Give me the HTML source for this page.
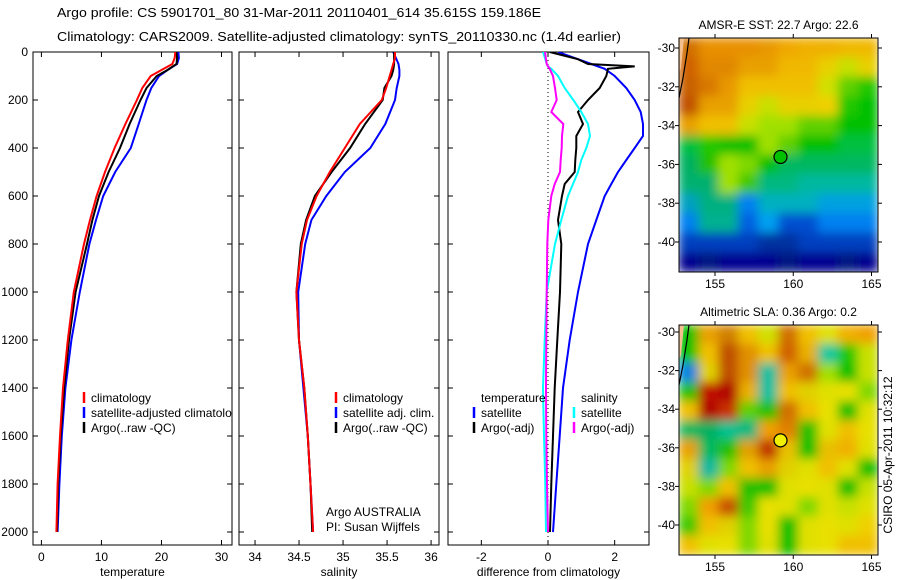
<!DOCTYPE html>
<html><head><meta charset="utf-8"><style>
body{margin:0;background:#fff;}
svg{display:block;font-family:"Liberation Sans",sans-serif;}
</style></head><body>
<svg id="fig" width="900" height="580" viewBox="0 0 900 580">
<defs>
<filter id="blur" x="0" y="0" width="1" height="1"><feGaussianBlur stdDeviation="5" edgeMode="duplicate"/></filter>
<clipPath id="clipTop"><rect x="679" y="38" width="199" height="234"/></clipPath>
<clipPath id="clipBot"><rect x="679" y="325" width="199" height="230"/></clipPath>
<clipPath id="clipP1"><rect x="33" y="52" width="199" height="493"/></clipPath>
<clipPath id="clipP2"><rect x="239" y="52" width="200" height="493"/></clipPath>
<clipPath id="clipP3"><rect x="448" y="52" width="201" height="493"/></clipPath>
</defs>
<text x="299" y="17" font-size="13" text-anchor="middle" textLength="484" lengthAdjust="spacingAndGlyphs">Argo profile: CS 5901701_80 31-Mar-2011 20110401_614 35.615S 159.186E</text>
<text x="339" y="41" font-size="13" text-anchor="middle" textLength="564" lengthAdjust="spacingAndGlyphs">Climatology: CARS2009. Satellite-adjusted climatology: synTS_20110330.nc (1.4d earlier)</text>
<g id="plots"></g>
<g id="maps"></g>
<text transform="translate(892,455) rotate(-90)" font-size="12" text-anchor="middle">CSIRO 05-Apr-2011 10:32:12</text>
</svg>
<script>
const depths=[0,25,50,75,100,150,200,300,400,500,600,700,800,1000,1200,1400,1600,1800,2000];
const tempClim=[22.3,22.2,21.8,20.0,18.2,16.8,15.9,14.0,12.2,10.6,9.2,8.1,7.1,5.4,4.4,3.6,3.1,2.7,2.5];
const tempSat=[22.8,22.9,22.6,21.0,19.6,18.3,17.5,16.2,14.9,12.3,10.3,9.1,8.0,6.4,5.0,4.0,3.4,3.0,2.7];
const tempArgo=[22.5,22.6,22.5,21.0,19.2,17.5,16.5,14.7,13.1,11.2,9.6,8.5,7.6,5.7,4.6,3.8,3.2,2.8,2.6];
const salClim=[35.59,35.59,35.57,35.55,35.53,35.49,35.44,35.19,35.02,34.85,34.70,34.59,34.53,34.47,34.50,34.56,34.60,34.63,34.66];
const salSat=[35.57,35.6,35.63,35.64,35.64,35.61,35.59,35.48,35.31,35.02,34.81,34.64,34.57,34.49,34.50,34.55,34.60,34.63,34.66];
const salArgo=[35.58,35.58,35.58,35.57,35.55,35.47,35.45,35.25,35.08,34.87,34.68,34.58,34.52,34.47,34.50,34.56,34.60,34.63,34.65];
const diffDepths=[0,30,50,60,70,100,150,200,250,300,350,400,450,500,550,600,700,800,1000,1200,1400,1600,1800,2000];
const dTempSat=[0.3,0.9,1.3,1.5,1.7,2.0,2.35,2.6,2.78,2.85,2.85,2.6,2.35,2.1,1.9,1.7,1.45,1.2,0.9,0.65,0.45,0.35,0.25,0.15];
const dTempArgo=[0.05,0.9,1.2,2.6,1.8,1.75,1.55,1.2,0.9,1.05,0.85,0.85,0.82,0.8,0.5,0.42,0.3,0.4,0.36,0.28,0.2,0.15,0.1,0.06];
const dSalSat=[-0.15,-0.08,-0.04,0.0,0.1,0.3,0.5,0.76,1.0,1.2,1.26,1.15,1.0,0.9,0.75,0.6,0.4,0.21,-0.04,-0.1,-0.15,-0.12,-0.08,-0.06];
const dSalArgo=[-0.09,-0.06,-0.04,0.0,0.05,0.15,0.21,0.26,0.1,0.46,0.42,0.41,0.38,0.36,0.2,0.1,0.01,-0.02,-0.04,-0.05,-0.06,-0.05,-0.03,0.0];
const depthTicks=[0,200,400,600,800,1000,1200,1400,1600,1800,2000];
const tempTicks=[0,10,20,30];
const salTicks=[34,34.5,35,35.5,36];
const salTickLabels=["34","34.5","35","35.5","36"];
const diffTicks=[-2,0,2];
const sstRows=[
"#d07000 #e89000 #e89000 #e89000 #e89800 #f0a800 #f0b000 #f0b000 #f0b800 #f0b800",
"#d06000 #e08800 #e08800 #e8a000 #e8a000 #f0b800 #f0b800 #e8d000 #c8e000 #e8d000",
"#c86000 #d87800 #e89800 #f0c000 #f0c000 #f0c000 #f0c000 #d0e000 #60d000 #20c800",
"#c05000 #e8a000 #e8a000 #e8d000 #c8e000 #e8d000 #e8d000 #f0d000 #20c800 #00c000",
"#e8a000 #f0c000 #f0c000 #c8e000 #a0e000 #a0e000 #60d000 #60d000 #00c000 #00c000",
"#00c040 #20c800 #00c000 #00c000 #a0e000 #60d000 #00c000 #00c000 #00c040 #00c040",
"#00b060 #20c000 #a0e000 #80d800 #00c000 #00b860 #00b860 #00b860 #00b860 #00b860",
"#00b070 #00b070 #a0e000 #40c800 #00b880 #00b880 #00b8a0 #00b8a0 #00b8a0 #00b8a0",
"#00a0c0 #00b080 #00b080 #0080f0 #00b0c0 #00b0c0 #00b0c0 #00a0e0 #00a0e0 #00a0e0",
"#0080f0 #00b090 #00b090 #0060e0 #00a0f0 #0050d0 #0050d0 #0080f0 #0080f0 #0080f0",
"#0040c0 #0040c0 #0040c0 #0040c0 #0030a0 #0030a0 #0040c0 #0040c0 #0040c0 #0040c0",
"#000090 #001880 #000090 #000090 #000090 #001880 #000090 #000090 #001880 #000090"];
const slaRows=[
"#00c000 #e8a000 #d08000 #f0c000 #d0e000 #d07000 #f0c000 #e0e000 #f0b000 #f0a000",
"#00c000 #f0c000 #c05000 #e09000 #f0c000 #d06000 #e8b000 #00c8a0 #20c800 #c8e000",
"#0080e0 #e0d000 #c05000 #e09000 #00c0a0 #e8a000 #d07000 #a0e000 #00c000 #c8e000",
"#20c000 #c01000 #b00000 #e8b000 #00c0a0 #f0c000 #e0d000 #e0e000 #e8e000 #80d800",
"#f0c000 #b00000 #c83000 #60d000 #20c000 #d07000 #f0c000 #e8e000 #00c000 #e0e000",
"#00b860 #00b060 #00c090 #00b880 #f0a000 #e08000 #20c000 #e0e000 #f0c000 #e8e000",
"#e8a000 #00b860 #20c000 #e0a000 #c03000 #e8c000 #00c000 #e8c000 #f0b000 #e0e000",
"#e0d000 #00b8a0 #80d800 #f0c000 #e8a000 #e0d000 #e0e000 #f0c000 #e0e000 #00c000",
"#c8e000 #80d800 #f0c000 #20c000 #00c000 #e0e000 #e8e000 #e0e000 #00c000 #c8e000",
"#80d800 #f0a000 #c85000 #40c800 #e8e000 #e0e000 #80d800 #e0e000 #c8e000 #e0e000",
"#40c800 #f0c000 #e0d000 #80d800 #e8e000 #00c000 #e0e000 #e8e000 #e0e000 #f0d000",
"#f0c000 #e0e000 #e8e000 #80d800 #e0e000 #00c000 #e0e000 #e8e000 #f0c000 #f0c000"];
const lonTicks=[155,160,165];
const latTicks=[30,32,34,36,38,40];
const floatLon=159.186, floatLat=35.615;

const NS="http://www.w3.org/2000/svg";
function mk(tag,attrs,parent){const e=document.createElementNS(NS,tag);for(const k in attrs)e.setAttribute(k,attrs[k]);parent.appendChild(e);return e;}
const plots=document.getElementById('plots');
const yD=d=>52+d*0.24;
const panels=[
 {x0:33,x1:232,vmin:-1.4,vmax:31.75,ticks:tempTicks,labels:tempTicks.map(String),xlabel:"temperature",clip:"clipP1",name:"temperature"},
 {x0:239,x1:439,vmin:33.818,vmax:36.09,ticks:salTicks,labels:salTickLabels,xlabel:"salinity",clip:"clipP2",name:"salinity"},
 {x0:448,x1:649,vmin:-3,vmax:3.03,ticks:diffTicks,labels:diffTicks.map(String),xlabel:"difference from climatology",clip:"clipP3",name:"difference"}];
panels.forEach((p,i)=>{
 p.sx=v=>p.x0+(v-p.vmin)/(p.vmax-p.vmin)*(p.x1-p.x0);
 const g=mk('g',{},plots);
 
 
 const fr=mk('rect',{x:p.x0,y:52,width:p.x1-p.x0,height:493,fill:'none',stroke:'#000','stroke-width':1},g);
 
 
 p.ticks.forEach((t,j)=>{
  const x=p.sx(t);
  mk('line',{x1:x,x2:x,y1:545,y2:540,stroke:'#000'},g);
  mk('line',{x1:x,x2:x,y1:52,y2:57,stroke:'#000'},g);
  const tl=mk('text',{x:x,y:561,'font-size':12,'text-anchor':'middle'},g);
  tl.textContent=p.labels[j];
  
  
 });
 depthTicks.forEach(d=>{
  const y=yD(d);
  mk('line',{x1:p.x0,x2:p.x0+5,y1:y,y2:y,stroke:'#000'},g);
  mk('line',{x1:p.x1,x2:p.x1-5,y1:y,y2:y,stroke:'#000'},g);
  if(i===0){const t=mk('text',{x:28,y:y+4,'font-size':12,'text-anchor':'end'},g);t.textContent=String(d);
   
   }
 });
 const xl=mk('text',{x:(p.x0+p.x1)/2,y:576,'font-size':12,'text-anchor':'middle'},g);
 xl.textContent=p.xlabel;
 
 
});
function series(p,ds,vals,color,name,w){
 const pts=ds.map((d,k)=>p.sx(vals[k]).toFixed(1)+','+yD(d).toFixed(1)).join(' ');
 const l=mk('polyline',{points:pts,fill:'none',stroke:color,'stroke-width':w||2,'clip-path':'url(#'+p.clip+')'},plots);
 
 
}
const P=panels;
const zl=mk('line',{x1:P[2].sx(0),x2:P[2].sx(0),y1:52,y2:545,stroke:'#000','stroke-dasharray':'1,3'},plots);


series(P[0],depths,tempSat,'#0000ff','temperature-satellite-line');
series(P[0],depths,tempArgo,'#000','temperature-argo-line');
series(P[0],depths,tempClim,'#ff0000','temperature-climatology-line');
series(P[1],depths,salSat,'#0000ff','salinity-satellite-line');
series(P[1],depths,salArgo,'#000','salinity-argo-line');
series(P[1],depths,salClim,'#ff0000','salinity-climatology-line');
series(P[2],diffDepths,dTempSat,'#0000ff','diff-temperature-satellite-line');
series(P[2],diffDepths,dTempArgo,'#000','diff-temperature-argo-line');
series(P[2],diffDepths,dSalSat,'#00ffff','diff-salinity-satellite-line');
series(P[2],diffDepths,dSalArgo,'#ff00ff','diff-salinity-argo-line');
function legend(x,y,color,text,name,clip){
 if(color){const m=mk('line',{x1:x,x2:x,y1:y-10,y2:y+1,stroke:color,'stroke-width':2.5},plots);
  
  }
 const t=mk('text',{x:x+7,y:y,'font-size':12},plots);
 if(clip)t.setAttribute('clip-path','url(#'+clip+')');
 t.textContent=text;
 
 
}
legend(84,402,'#ff0000','climatology','legend-temp-climatology','clipP1');
legend(84,417,'#0000ff','satellite-adjusted climatology','legend-temp-satellite','clipP1');
legend(84,432,'#000','Argo(..raw -QC)','legend-temp-argo','clipP1');
legend(336,402,'#ff0000','climatology','legend-sal-climatology');
legend(336,417,'#0000ff','satellite adj. clim.','legend-sal-satellite');
legend(336,432,'#000','Argo(..raw -QC)','legend-sal-argo');
legend(474,402,null,'temperature','legend-diff-temperature-header');
legend(474,417,'#0000ff','satellite','legend-diff-temp-satellite');
legend(474,432,'#000','Argo(-adj)','legend-diff-temp-argo');
legend(574,402,null,'salinity','legend-diff-salinity-header');
legend(574,417,'#00ffff','satellite','legend-diff-sal-satellite');
legend(574,432,'#ff00ff','Argo(-adj)','legend-diff-sal-argo');
legend(319,516,null,'Argo AUSTRALIA','argo-australia-note');
legend(319,531,null,'PI: Susan Wijffels','pi-note');

const maps=document.getElementById('maps');
function drawMap(y0,y1,rows,title,clip,name,circleFill,lat0,latPx){
 const x0=679,x1=878;
 const g=mk('g',{},maps);
 
 
 const img=mk('g',{'clip-path':'url(#'+clip+')'},g);
 const inner=mk('g',{filter:'url(#blur)'},img);
 const nr=rows.length, cw=(x1-x0)/10, rh=(y1-y0)/nr;
 rows.forEach((r,ri)=>r.split(' ').forEach((c,ci)=>{
  mk('rect',{x:x0+ci*cw-0.5,y:y0+ri*rh-0.5,width:cw+1,height:rh+1,fill:c},inner);
 }));
 const sx=lon=>715+(lon-155)*15.65;
 const sy=lat=>lat0+(lat-30)*latPx;
 mk('path',{d:`M${x0},${y0+60} L${x0+4},${y0+40} L${x0+8},${y0+15} L${x0+10},${y0}`,fill:'none',stroke:'#000','stroke-width':1.2},img);
 mk('path',{d:`M${x0},${y0} L${x0+5},${y0} L${x0+2},${y0+30} L${x0},${y0+35}Z`,fill:'#f4c090'},img);
 const fr=mk('rect',{x:x0,y:y0,width:x1-x0,height:y1-y0,fill:'none',stroke:'#000'},g);
 
 
 const c=mk('circle',{cx:sx(floatLon),cy:sy(floatLat),r:6.5,fill:circleFill,stroke:'#000','stroke-width':1.2},g);
 
 
 lonTicks.forEach(l=>{const x=sx(l);
  mk('line',{x1:x,x2:x,y1:y1,y2:y1+4,stroke:'#000'},g);
  mk('line',{x1:x,x2:x,y1:y0,y2:y0-4,stroke:'#000'},g);
  const t=mk('text',{x:x,y:y1+16,'font-size':12,'text-anchor':'middle'},g);t.textContent=String(l);
  
  });
 latTicks.forEach(l=>{const y=sy(l);
  mk('line',{x1:x0,x2:x0-4,y1:y,y2:y,stroke:'#000'},g);
  mk('line',{x1:x1,x2:x1+4,y1:y,y2:y,stroke:'#000'},g);
  const t=mk('text',{x:675,y:y+4,'font-size':12,'text-anchor':'end'},g);t.textContent='-'+l;
  
  });
 const tt=mk('text',{x:(x0+x1)/2,y:y0-9,'font-size':12,'text-anchor':'middle'},g);
 tt.textContent=title;
 
 
}
drawMap(38,272,sstRows,'AMSR-E SST: 22.7 Argo: 22.6','clipTop','sst-map','#00c000',48,19.4);
drawMap(325,555,slaRows,'Altimetric SLA: 0.36 Argo: 0.2','clipBot','sla-map','#f0f000',332,19.3);
</script>
</body></html>
